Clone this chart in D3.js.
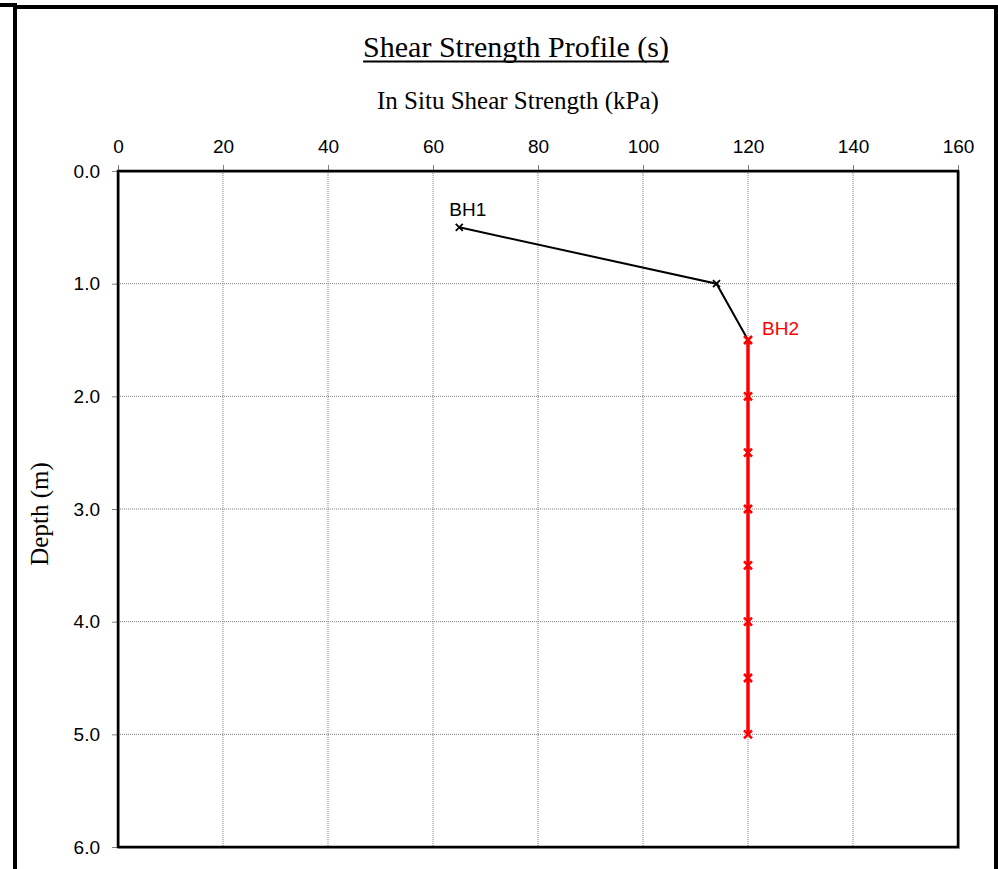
<!DOCTYPE html>
<html><head><meta charset="utf-8">
<script src="https://cdn.jsdelivr.net/npm/d3@7"></script>
<style>body{margin:0;background:#fff}svg{display:block}</style>
</head><body>
<script>
const xTicks = [0,20,40,60,80,100,120,140,160];
const yTicks = [0,1,2,3,4,5,6];
const bh1Strength = [65,114,120];
const bh1Depth = [0.5,1.0,1.5];
const bh2Strength = [120,120,120,120,120,120,120,120];
const bh2Depth = [1.5,2.0,2.5,3.0,3.5,4.0,4.5,5.0];

const W=998,H=869;
const svg=d3.select("body").append("svg").attr("width",W).attr("height",H);
const L=118,T=171,R=958,B=847;
const x=d3.scaleLinear().domain([0,160]).range([L,R]);
const y=d3.scaleLinear().domain([0,6]).range([T,B]);

// outer frame
svg.append("path").attr("d",`M0,5 H17 M15,5 V869 M15,7 H998 M996,7 V869`).attr("stroke","#000").attr("stroke-width",4).attr("fill","none");

// grid
const g=svg.append("g");
g.selectAll(".vg").data(xTicks.slice(1,-1)).join("line").attr("x1",d=>x(d)).attr("x2",d=>x(d)).attr("y1",T).attr("y2",B)
 .attr("stroke","#808080").attr("stroke-width",1).attr("stroke-dasharray","1,1");
g.selectAll(".hg").data(yTicks.slice(1,-1)).join("line").attr("y1",d=>y(d)).attr("y2",d=>y(d)).attr("x1",L).attr("x2",R)
 .attr("stroke","#808080").attr("stroke-width",1).attr("stroke-dasharray","1,1");

// axes
const xa=d3.axisTop(x).tickValues(xTicks).tickSize(6).tickPadding(12).tickFormat(d3.format("d"));
const ya=d3.axisLeft(y).tickValues(yTicks).tickSize(6).tickPadding(12).tickFormat(d3.format(".1f"));
const gx=svg.append("g").attr("transform",`translate(0,${T})`).call(xa);
const gy=svg.append("g").attr("transform",`translate(${L},0)`).call(ya);
[gx,gy].forEach(a=>{a.select(".domain").remove();a.selectAll("line").attr("stroke","#808080");
 a.selectAll("text").attr("font-family","Liberation Sans, Arial").attr("font-size",19).attr("fill","#000");});

// plot border
svg.append("rect").attr("x",L+1).attr("y",T+1).attr("width",R-L).attr("height",B-T).attr("fill","none").attr("stroke","#aaa").attr("stroke-width",2);
svg.append("rect").attr("x",L).attr("y",T).attr("width",R-L).attr("height",B-T).attr("fill","none").attr("stroke","#000").attr("stroke-width",2.5);

// lines
const line=d3.line().x(d=>x(d[0])).y(d=>y(d[1]));
const bh1=bh1Strength.map((s,i)=>[s,bh1Depth[i]]);
const bh2=bh2Strength.map((s,i)=>[s,bh2Depth[i]]);
svg.append("path").attr("d",line(bh1)).attr("stroke","#000").attr("stroke-width",2).attr("fill","none");
svg.append("path").attr("d",line(bh2)).attr("stroke","#ff0000").attr("stroke-width",3.5).attr("fill","none");
function marks(data,color,sw,s){
 svg.append("g").selectAll("path").data(data).join("path")
  .attr("d",d=>{const cx=x(d[0]),cy=y(d[1]);return `M${cx-s},${cy-s}L${cx+s},${cy+s}M${cx-s},${cy+s}L${cx+s},${cy-s}`;})
  .attr("stroke",color).attr("stroke-width",sw);
}
marks(bh1,"#000",1.8,3.5);
marks(bh2,"#ff0000",2.5,4);

// labels
svg.append("text").attr("x",x(bh1[0][0])-10).attr("y",y(bh1[0][1])-11).text("BH1")
 .attr("font-family","Liberation Sans, Arial").attr("font-size",19).attr("fill","#000");
svg.append("text").attr("x",x(bh2[0][0])+14).attr("y",y(bh2[0][1])-5).text("BH2")
 .attr("font-family","Liberation Sans, Arial").attr("font-size",19).attr("fill","#ff0000");

// titles
const title=svg.append("text").attr("x",516).attr("y",57).attr("text-anchor","middle").text("Shear Strength Profile (s)")
 .attr("font-family","Liberation Serif, Times New Roman").attr("font-size",30);
const tw=title.node().getComputedTextLength();
svg.append("line").attr("x1",516-tw/2).attr("x2",516+tw/2).attr("y1",61.5).attr("y2",61.5).attr("stroke","#000").attr("stroke-width",2);
svg.append("text").attr("x",518).attr("y",109).attr("text-anchor","middle").text("In Situ Shear Strength (kPa)")
 .attr("font-family","Liberation Serif, Times New Roman").attr("font-size",25);
svg.append("text").attr("transform",`translate(48,514) rotate(-90)`).attr("text-anchor","middle").text("Depth (m)")
 .attr("font-family","Liberation Serif, Times New Roman").attr("font-size",25);
</script>
</body></html>
